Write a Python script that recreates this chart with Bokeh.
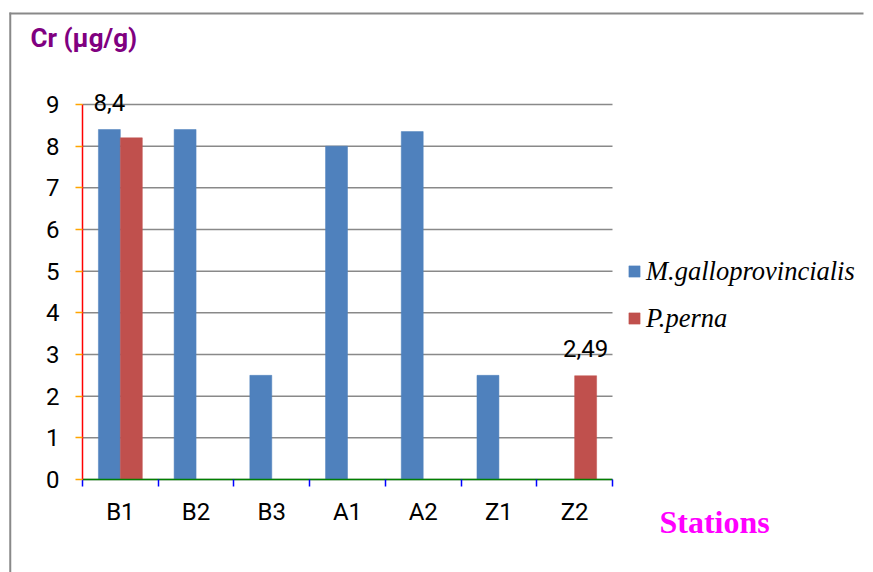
from bokeh.plotting import figure
from bokeh.models import (Range1d, FixedTicker, ColumnDataSource, Legend, LegendItem,
                          LabelSet, Label)
from bokeh.core.properties import value
from bokeh.embed import file_html
from bokeh.resources import INLINE

# Chromium content (µg/g) per station for the two mussel species
stations = ["B1", "B2", "B3", "A1", "A2", "Z1", "Z2"]
m_gallo = [8.4, 8.4, 2.5, 8.0, 8.35, 2.5, None]
p_perna = [8.2, None, None, None, None, None, 2.49]
y_ticks = [0, 1, 2, 3, 4, 5, 6, 7, 8, 9]
series_names = ["M.galloprovincialis", "P.perna"]
series_colors = ["#4F81BD", "#C0504D"]
# (series, station) pairs that carry a value label
value_labels = [(0, 0), (1, 6)]

W, H = 873, 572
GRAY = "#898989"
BAR_W = 0.29
OFFSETS = [-0.145, 0.145]
TICK_FONT = "Roboto"

# layout: the frame fills the bordered chart area; the value axes sit inside it
FL, FT, FR, FB = 8, 11, 10, 0  # frame margins (pixels)
X0, XU = 82, 530 / 7           # pixel of category edge 0, pixels per category
Y0, YU = 479, 375 / 9          # pixel of value 0, pixels per unit


def dx(px):
    return (px - X0) / XU


def dy(py):
    return (Y0 - py) / YU


p = figure(width=W, height=H,
           x_range=Range1d(dx(FL), dx(W - FR)), y_range=Range1d(dy(H - FB), dy(FT)),
           output_backend="svg", toolbar_location=None,
           min_border_left=FL, min_border_right=FR, min_border_top=FT, min_border_bottom=FB)
p.title.visible = False
p.outline_line_color = None
p.background_fill_color = "white"
p.border_fill_color = "white"
p.xgrid.visible = False
p.ygrid.visible = False

# chart-area frame: top and left edges
p.segment(x0=[dx(9.75), dx(9)], y0=[dy(H), dy(13)],
          x1=[dx(9.75), dx(W)], y1=[dy(12), dy(13)],
          line_color=GRAY, line_width=2)

# horizontal gridlines across the category span
p.segment(x0=0, x1=len(stations), y0=y_ticks, y1=y_ticks, line_color=GRAY, line_width=1.5)

series = [m_gallo, p_perna]
renderers = []
for k, vals in enumerate(series):
    xs = [i + 0.5 + OFFSETS[k] for i, v in enumerate(vals) if v is not None]
    tops = [v for v in vals if v is not None]
    src = ColumnDataSource(dict(x=xs, top=tops))
    r = p.vbar(x="x", top="top", bottom=0, width=BAR_W, source=src,
               fill_color=series_colors[k], line_color=series_colors[k], line_width=0.5)
    renderers.append(r)

# value labels above selected bars
lx, ly, lt = [], [], []
for k, i in value_labels:
    v = series[k][i]
    lx.append(i + 0.5 + OFFSETS[k])
    ly.append(v)
    lt.append(f"{v:g}".replace(".", ","))
p.add_layout(LabelSet(x="x", y="y", text="t", source=ColumnDataSource(dict(x=lx, y=ly, t=lt)),
                      text_align="center", text_baseline="alphabetic", y_offset=19,
                      text_font=value(TICK_FONT), text_font_size=value("24px"),
                      text_color="black"))

# x axis: labels at category centres, tick marks between categories
xa = p.xaxis[0]
xa.fixed_location = 0
xa.bounds = (0, len(stations))
xa.ticker = FixedTicker(ticks=[i + 0.5 for i in range(len(stations))],
                        minor_ticks=list(range(len(stations) + 1)))
xa.major_label_overrides = {i + 0.5: s for i, s in enumerate(stations)}
xa.major_tick_line_color = None
xa.major_tick_out = 0
xa.major_tick_in = 0
xa.minor_tick_out = 7
xa.minor_tick_in = 0
xa.minor_tick_line_color = "blue"
xa.minor_tick_line_width = 1.5
xa.axis_line_color = "green"
xa.axis_line_width = 1.5
xa.major_label_standoff = 11
xa.major_label_text_font = TICK_FONT
xa.major_label_text_font_size = "24px"
xa.major_label_text_color = "black"

ya = p.yaxis[0]
ya.fixed_location = 0
ya.bounds = (0, 9)
ya.ticker = FixedTicker(ticks=y_ticks, minor_ticks=[])
ya.major_tick_out = 7
ya.major_tick_in = 0
ya.major_tick_line_color = "orange"
ya.major_tick_line_width = 1.5
ya.minor_tick_line_color = None
ya.axis_line_color = "red"
ya.axis_line_width = 1.5
ya.major_label_standoff = 16
ya.major_label_text_font = TICK_FONT
ya.major_label_text_font_size = "24px"
ya.major_label_text_color = "black"

legend = Legend(items=[LegendItem(label=n, renderers=[r]) for n, r in zip(series_names, renderers)],
                location=(627 - FL, H - FB - 333.5), orientation="vertical",
                label_text_font="Liberation Serif", label_text_font_style="italic",
                label_text_font_size="26.5px", label_text_color="black", label_height=29,
                glyph_width=14, glyph_height=14, label_standoff=5, spacing=16,
                padding=0, margin=0, border_line_color=None, background_fill_alpha=0)
p.add_layout(legend, "center")

p.add_layout(Label(x=dx(30), y=dy(37.5), text="Cr (µg/g)",
                   text_font="Roboto", text_font_style="bold", text_font_size="26px",
                   text_baseline="alphabetic", text_color="purple"))
p.add_layout(Label(x=dx(659), y=dy(521.5), text="Stations",
                   text_font="Liberation Serif", text_font_style="bold", text_font_size="32px",
                   text_baseline="alphabetic", text_color="magenta"))

open("out.html", "w").write(file_html(p, INLINE))
